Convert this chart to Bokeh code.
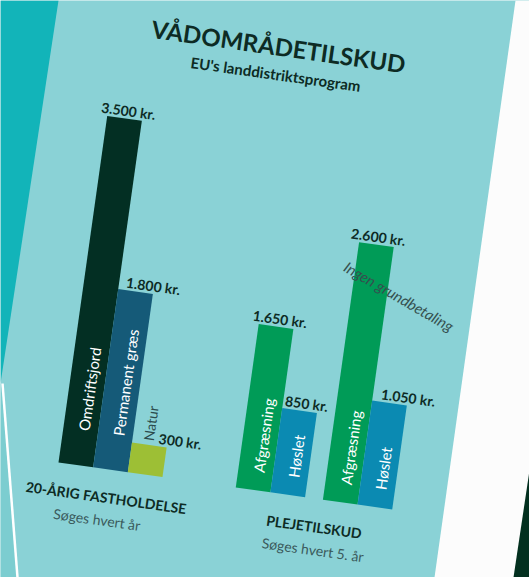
import math
from bokeh.plotting import figure
from bokeh.models import ColumnDataSource
from bokeh.core.properties import value
from bokeh.embed import file_html
from bokeh.resources import INLINE

# ---------------- data ----------------
left_categories = ["Omdriftsjord", "Permanent græs", "Natur"]
left_values = [3500, 1800, 300]
right_categories = ["Afgræsning", "Høslet", "Afgræsning", "Høslet"]
right_values = [1650, 850, 2600, 1050]
group_titles = ["20-ÅRIG FASTHOLDELSE", "PLEJETILSKUD"]
group_subtitles = ["Søges hvert år", "Søges hvert 5. år"]
title = "VÅDOMRÅDETILSKUD"
subtitle = "EU's landdistriktsprogram"
note = "Ingen grundbetaling"

# ---------------- styling / layout ----------------
PANEL = "#8ad2d6"
TEXT_DARK = "#0d2b24"
left_colors = ["#032f23", "#155a78", "#9dbf35"]
right_colors = ["#009b57", "#0b8ab2", "#009b57", "#0b8ab2"]
FONT = "Lato"

PX_PER_KR = 0.1
BAR_W = 35
left_u = [0, 35, 70]
right_u = [179, 214, 267, 302]
left_label_du = [-7, 7, 26]
right_label_du = [-7, 2, -9, 8]

TH = math.radians(-8)          # the sheet is photographed slightly rotated
OX, OY = 58, 115               # baseline origin of the chart


def tr(u, v):
    return (OX + u * math.cos(TH) - v * math.sin(TH),
            OY + u * math.sin(TH) + v * math.cos(TH))


def fmt(v):
    return f"{v:,}".replace(",", ".") + " kr."


p = figure(width=529, height=577, x_range=(0, 529), y_range=(0, 577),
           output_backend="svg", toolbar_location=None, min_border=0)
p.axis.visible = False
p.grid.visible = False
p.outline_line_color = None
p.background_fill_color = PANEL
p.border_fill_color = PANEL

# decorative background of the photographed page
p.patch([0, 58, 0], [577, 577, 194], color="#12b4b9", line_color=None)
p.patch([0, 2, 17, 0], [194, 194, 0, 0], color="#7ccdd0", line_color=None)
p.line([2, 17], [194, 0], line_color="white", line_width=2.5)
p.patch([515, 529, 529, 434], [577, 577, 0, 0], color="#fcfcfc", line_color=None)
p.patch([529, 529, 513], [107, 0, 0], color="#03301f", line_color=None)

# ---------------- bars ----------------
cats = left_categories + right_categories
vals = left_values + right_values
us = left_u + right_u
cols = left_colors + right_colors
cx, cy, hh = [], [], []
for u, v in zip(us, vals):
    h = v * PX_PER_KR
    x, y = tr(u + BAR_W / 2, h / 2)
    cx.append(x); cy.append(y); hh.append(h)
src = ColumnDataSource(dict(x=cx, y=cy, h=hh, c=cols, cat=cats))
p.rect(x="x", y="y", width=BAR_W, height="h", angle=TH, fill_color="c",
       line_color=None, source=src)

# value labels
lx, ly, lt = [], [], []
for u, v, du in zip(us, vals, left_label_du + right_label_du):
    x, y = tr(u + du, v * PX_PER_KR + 8)
    lx.append(x); ly.append(y); lt.append(fmt(v))
p.text(lx, ly, text=lt, angle=TH, text_font=value(FONT), text_font_style="bold",
       text_font_size="14px", text_color=TEXT_DARK, text_align="left",
       text_baseline="alphabetic")

# inside-bar category labels (white), except 'Natur' which sits above its bar
ix, iy, it = [], [], []
for i, (u, cat) in enumerate(zip(us, cats)):
    if cat == "Natur":
        continue
    start = 35 if i < 3 else 18
    x, y = tr(u + BAR_W / 2 + 3, start)
    ix.append(x); iy.append(y); it.append(cat)
p.text(ix, iy, text=it, angle=TH + math.pi / 2, text_font=value(FONT),
       text_font_size="15px", text_color="white", text_align="left",
       text_baseline="middle")
nx, ny = tr(left_u[2] + 16, left_values[2] * PX_PER_KR + 4)
p.text([nx], [ny], text=[left_categories[2]], angle=TH + math.pi / 2,
       text_font=value(FONT), text_font_size="14px", text_color="#2c4b4c",
       text_align="left", text_baseline="middle")

# note across the tallest bar
nx2, ny2 = tr(314, 212)
p.text([nx2], [ny2], text=[note], angle=math.radians(-30), text_font=value(FONT),
       text_font_style="italic", text_font_size="15px", text_color="#35504f",
       text_align="center", text_baseline="middle")

# group titles
gx, gy = [], []
for u in (52, 262):
    x, y = tr(u, -28)
    gx.append(x); gy.append(y)
p.text(gx, gy, text=group_titles, angle=TH, text_font=value(FONT),
       text_font_style="bold", text_font_size="14px", text_color=TEXT_DARK,
       text_align="center", text_baseline="middle")
sx, sy = [], []
for u in (46, 264):
    x, y = tr(u, -51)
    sx.append(x); sy.append(y)
p.text(sx, sy, text=group_subtitles, angle=TH, text_font=value(FONT),
       text_font_size="14px", text_color="#3a5a5c",
       text_align="center", text_baseline="middle")

# chart title
tx, ty = tr(160, 443)
p.text([tx], [ty], text=[title], angle=TH, text_font=value(FONT),
       text_font_style="bold", text_font_size="24px", text_color=TEXT_DARK,
       text_align="center", text_baseline="middle")
stx, sty = tr(161, 415)
p.text([stx], [sty], text=[subtitle], angle=TH, text_font=value(FONT),
       text_font_style="bold", text_font_size="15px", text_color=TEXT_DARK,
       text_align="center", text_baseline="middle")

open("out.html", "w").write(file_html(p, INLINE))
